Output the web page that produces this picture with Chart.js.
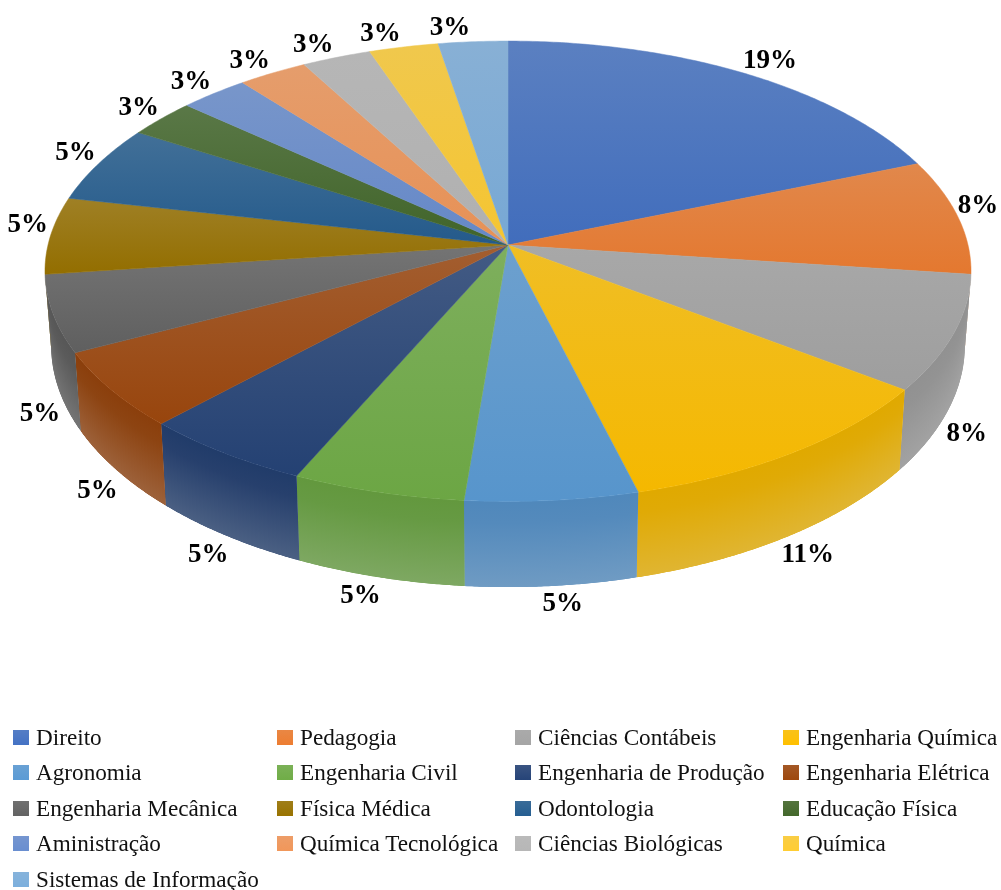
<!DOCTYPE html>
<html>
<head>
<meta charset="utf-8">
<title>Cursos</title>
<script src="https://cdn.jsdelivr.net/npm/chart.js@4/dist/chart.umd.min.js"></script>
<style>
    body{ margin:0; background:#fff; }
    #wrap{ position:relative; width:1001px; height:890px; overflow:hidden; }
    #pie{ position:absolute; left:0; top:0; }
    .item{ position:absolute; font:23.2px "Liberation Serif", serif; color:#111; white-space:nowrap; line-height:26px; }
    .box{ position:absolute; width:16px; height:15px; }
</style>
</head>
<body>
<div id="wrap">
    <canvas id="pie" width="1001" height="890"></canvas>
    <div id="legend"></div>
</div>
<script>
// ================= DATA =================

const courses = ['Direito', 'Pedagogia', 'Ciências Contábeis', 'Engenharia Química',
    'Agronomia', 'Engenharia Civil', 'Engenharia de Produção', 'Engenharia Elétrica',
    'Engenharia Mecânica', 'Física Médica', 'Odontologia', 'Educação Física',
    'Aministração', 'Química Tecnológica', 'Ciências Biológicas', 'Química',
    'Sistemas de Informação'];
const counts = [7, 3, 3, 4, 2, 2, 2, 2, 2, 2, 2, 1, 1, 1, 1, 1, 1];
const percentLabels = ['19%', '8%', '8%', '11%', '5%', '5%', '5%', '5%', '5%', '5%', '5%',
    '3%', '3%', '3%', '3%', '3%', '3%'];
const colors = ['#4472C4', '#ED7D31', '#A5A5A5', '#FFC000', '#5B9BD5', '#70AD47', '#264478',
    '#9E480E', '#636363', '#997300', '#255E91', '#43682B', '#698ED0', '#F1975A', '#B7B7B7',
    '#FFCD33', '#7CAFDD'];

// ================= 3D PROJECTION =================

const CX = 508, APEX_Y = 245;
const TOP_DISK = {a: 460, b: 227.2, c: 0, k: 0.114};
const BASE_DISK = {a: 453.9, b: 238.7, c: 72.7, k: 0.114};

function project(disk, angle, r){
    let x = r * Math.cos(angle), v = r * Math.sin(angle);
    let d = 1 - disk.k * v;
    return {x: CX + disk.a * x / d, y: APEX_Y + disk.c + disk.b * v / d};
}

function rgb(hex){
    return [1, 3, 5].map(i => parseInt(hex.substr(i, 2), 16));
}

// scale the colour, then wash it with a light grey
function shade(hex, factor, wash){
    let c = rgb(hex).map(n => n * factor * (1 - wash) + 205 * wash);
    return 'rgb(' + c.map(n => Math.round(Math.min(255, n))).join(',') + ')';
}

function drawSide(ctx, arc){
    // only the part of the wall that faces the viewer
    let start = arc.startAngle, end = arc.endAngle;
    let front = [];
    for(let s = start; s < end; s += 0.005){
        if(Math.sin(s) > TOP_DISK.k) front.push(s);
    }
    if(!front.length) return;
    if(Math.sin(end) > TOP_DISK.k) front.push(end);

    // flat coat first so nothing of the page shines through between strips
    ctx.beginPath();
    front.forEach((s, i) => {
        let p = project(TOP_DISK, s, 1);
        i ? ctx.lineTo(p.x, p.y) : ctx.moveTo(p.x, p.y);
    });
    front.slice().reverse().forEach(s => {
        let p = project(BASE_DISK, s, 1);
        ctx.lineTo(p.x, p.y);
    });
    ctx.closePath();
    ctx.fillStyle = shade(arc.color, 0.89, 0.08);
    ctx.fill();
    ctx.save();
    ctx.clip();

    for(let i = 0; i < front.length - 1; i += 2){
        let s = front[i], e = front[Math.min(i + 4, front.length - 1)];
        let t1 = project(TOP_DISK, s, 1), t2 = project(TOP_DISK, e, 1);
        let b1 = project(BASE_DISK, s, 1), b2 = project(BASE_DISK, e, 1);
        let g = ctx.createLinearGradient(0, t1.y, 0, b1.y);
        g.addColorStop(0, shade(arc.color, 0.88, 0));
        g.addColorStop(0.25, shade(arc.color, 0.88, 0.03));
        g.addColorStop(1, shade(arc.color, 0.9, 0.24));
        ctx.fillStyle = g;
        ctx.beginPath();
        ctx.moveTo(t1.x, t1.y);
        ctx.lineTo(t2.x, t2.y);
        ctx.lineTo(b2.x, b2.y);
        ctx.lineTo(b1.x, b1.y);
        ctx.closePath();
        ctx.fill();
    }
    ctx.restore();
}

function drawTop(ctx, arc){
    let pts = [project(TOP_DISK, 0, 0)];
    for(let s = arc.startAngle; s < arc.endAngle; s += 0.01){
        pts.push(project(TOP_DISK, s, 1));
    }
    pts.push(project(TOP_DISK, arc.endAngle, 1));

    let ys = pts.map(p => p.y);
    let g = ctx.createLinearGradient(0, Math.min(...ys), 0, Math.max(...ys));
    g.addColorStop(0, shade(arc.color, 0.97, 0.18));
    g.addColorStop(1, shade(arc.color, 0.96, 0));

    ctx.beginPath();
    pts.forEach((p, i) => i ? ctx.lineTo(p.x, p.y) : ctx.moveTo(p.x, p.y));
    ctx.closePath();
    ctx.fillStyle = g;
    ctx.strokeStyle = g;
    ctx.lineWidth = 0.5;
    ctx.fill();
    ctx.stroke();
}

function drawLabel(ctx, arc, text){
    let mid = (arc.startAngle + arc.endAngle) / 2;
    let x = Math.cos(mid), v = Math.sin(mid);
    let p, dx, dy;
    if(v < 0.1){
        p = project(TOP_DISK, mid, 1);
        dx = x < 0 ? -23 : 35 - 15 * x;
        dy = -16 + 4 * Math.abs(x);
    } else {
        p = project(BASE_DISK, mid, 1);
        dx = 19 * Math.max(-1, Math.min(1, x * 7));
        dy = 16 + 8 * (1 - v);
    }
    ctx.fillStyle = '#000';
    ctx.font = 'bold 27px "Liberation Serif", serif';
    ctx.textAlign = 'center';
    ctx.textBaseline = 'middle';
    ctx.fillText(text, p.x + dx, p.y + dy + 2);
}

// Chart.js only lays the arcs out, the plugin paints them in perspective
const pie3d = {
    id: 'pie3d',
    beforeDatasetsDraw(chart){
        let ctx = chart.ctx;
        let arcs = chart.getDatasetMeta(0).data.map((el, i) => {
            let props = el.getProps(['startAngle', 'endAngle'], true);
            return {startAngle: props.startAngle, endAngle: props.endAngle, color: colors[i]};
        });
        ctx.save();
        arcs.forEach(a => drawSide(ctx, a));
        arcs.forEach(a => drawTop(ctx, a));
        arcs.forEach((a, i) => drawLabel(ctx, a, percentLabels[i]));
        ctx.restore();
        return false;
    }
};

new Chart(document.getElementById('pie'), {
    type: 'pie',
    data: {
        labels: courses,
        datasets: [{data: counts, backgroundColor: colors, borderWidth: 0}]
    },
    options: {
        responsive: false,
        animation: false,
        plugins: {legend: {display: false}, tooltip: {enabled: false}}
    },
    plugins: [pie3d]
});

// ================= LEGEND =================

const legendX = [13, 277, 515, 783];
const legendY = [730, 765, 801, 836, 872];
let legend = document.getElementById('legend');

courses.forEach((name, i) => {
    let col = i % 4, row = Math.floor(i / 4);
    let box = document.createElement('div');
    box.className = 'box';
    box.style.left = legendX[col] + 'px';
    box.style.top = legendY[row] + 'px';
    box.style.background = 'linear-gradient(' + shade(colors[i], 1, 0.12) + ',' + colors[i] + ')';
    legend.appendChild(box);

    let item = document.createElement('div');
    item.className = 'item';
    item.style.left = (legendX[col] + 23) + 'px';
    item.style.top = (legendY[row] - 6) + 'px';
    item.innerText = name;
    legend.appendChild(item);
});
</script>
</body>
</html>
